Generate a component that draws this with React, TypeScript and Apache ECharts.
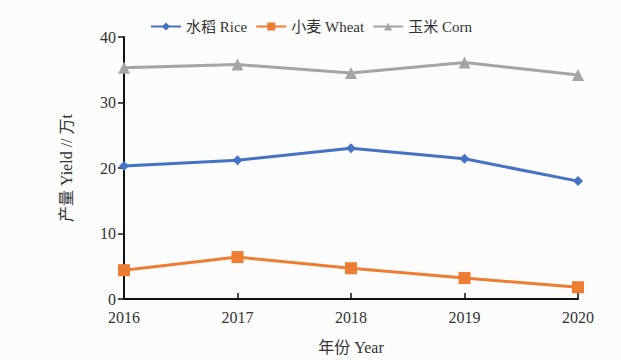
import React, { useEffect, useRef } from "react";
import * as echarts from "echarts";

const years = ["2016", "2017", "2018", "2019", "2020"];
const rice = [20.3, 21.2, 23.0, 21.4, 18.0];
const wheat = [4.4, 6.4, 4.7, 3.2, 1.8];
const corn = [35.3, 35.8, 34.5, 36.1, 34.2];
const yTicks = { min: 0, max: 40, interval: 10 };

const serif = "'Liberation Serif', 'Noto Sans CJK SC', serif";

export default function App() {
  const ref = useRef<HTMLDivElement>(null);
  useEffect(() => {
    if (!ref.current) return;
    const chart = echarts.init(ref.current, undefined, { renderer: "svg" });
    const mk = (name: string, data: number[], color: string, symbol: string, size: number) => ({
      name,
      type: "line",
      data,
      symbol,
      symbolSize: size,
      lineStyle: { color, width: 3 },
      itemStyle: { color },
      color,
    });
    chart.setOption({
      animation: false,
      backgroundColor: "#fcfcfc",
      textStyle: { fontFamily: serif },
      legend: {
        top: 14,
        left: 145,
        itemWidth: 30,
        itemHeight: 10,
        itemGap: 8,
        textStyle: { fontFamily: serif, fontSize: 15, color: "#333" },
        data: ["水稻 Rice", "小麦 Wheat", "玉米 Corn"],
      },
      grid: { left: 124, right: 43, top: 37, bottom: 59 },
      xAxis: {
        type: "category",
        data: years,
        boundaryGap: false,
        name: "年份 Year",
        nameLocation: "middle",
        nameGap: 40,
        nameTextStyle: { fontFamily: serif, fontSize: 16, color: "#333" },
        axisLine: { lineStyle: { color: "#111", width: 2 } },
        axisTick: { inside: true, length: 6, lineStyle: { color: "#111", width: 1.5 } },
        axisLabel: { fontFamily: serif, fontSize: 16, color: "#333", margin: 10 },
        splitLine: { show: false },
      },
      yAxis: {
        type: "value",
        min: yTicks.min,
        max: yTicks.max,
        interval: yTicks.interval,
        name: "产量 Yield // 万t",
        nameLocation: "middle",
        nameGap: 50,
        nameTextStyle: { fontFamily: serif, fontSize: 16, color: "#333" },
        axisLine: { show: true, lineStyle: { color: "#111", width: 2 } },
        axisTick: { show: true, length: 6, lineStyle: { color: "#111", width: 1.5 } },
        axisLabel: { fontFamily: serif, fontSize: 16, color: "#333", margin: 8, lineHeight: 14 },
        splitLine: { show: false },
      },
      series: [
        mk("水稻 Rice", rice, "#4472C4", "diamond", 10),
        mk("小麦 Wheat", wheat, "#ED7D31", "rect", 12),
        mk("玉米 Corn", corn, "#A5A5A5", "triangle", 12),
      ],
    });
    return () => chart.dispose();
  }, []);
  return (
    <div
      ref={ref}
      style={{ position: "absolute", left: 0, top: 0, width: 621, height: 360 }}
    />
  );
}
